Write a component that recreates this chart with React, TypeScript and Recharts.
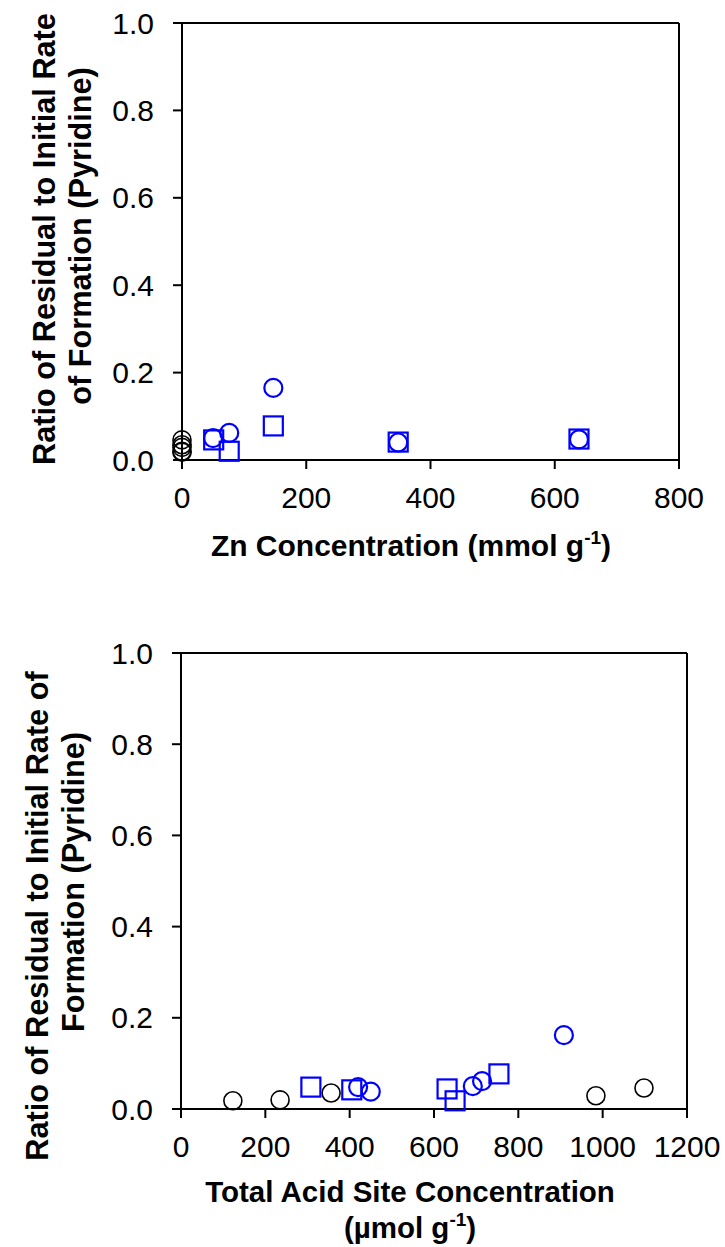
import { ScatterChart, Scatter, XAxis, YAxis, ReferenceLine } from "recharts";

// top panel: Zn concentration (mmol g-1)
const znBlackX = [0, 0, 0, 0, 0];
const znBlackY = [0.018, 0.02, 0.035, 0.029, 0.046];
const znCircleX = [50, 76, 147, 348, 639];
const znCircleY = [0.05, 0.062, 0.165, 0.04, 0.047];
const znSquareX = [51, 76, 147, 348, 639];
const znSquareY = [0.046, 0.02, 0.078, 0.041, 0.048];

// bottom panel: total acid site concentration (umol g-1)
const acidBlackX = [123, 235, 356, 984, 1098];
const acidBlackY = [0.018, 0.02, 0.035, 0.029, 0.046];
const acidCircleX = [420, 450, 692, 714, 908];
const acidCircleY = [0.048, 0.038, 0.05, 0.061, 0.162];
const acidSquareX = [308, 405, 631, 650, 754];
const acidSquareY = [0.048, 0.042, 0.044, 0.018, 0.077];

const yTicks = [0, 0.2, 0.4, 0.6, 0.8, 1.0];
const znTicks = [0, 200, 400, 600, 800];
const acidTicks = [0, 200, 400, 600, 800, 1000, 1200];

const FONT = "Liberation Sans, Arial, sans-serif";
const BLUE = "#0000ff";

const pts = (xs: number[], ys: number[]) => xs.map((x, i) => ({ x, y: ys[i] }));

const ring = (color: string, w: number) => (p: any) =>
  <circle cx={p.cx} cy={p.cy} r={9} fill="none" stroke={color} strokeWidth={w} />;

const box = (color: string) => (p: any) =>
  <rect x={p.cx - 9.5} y={p.cy - 9.5} width={19} height={19} fill="none" stroke={color} strokeWidth={2.2} />;

const tickStyle = { fontSize: 30, fill: "#000", fontFamily: FONT };
const lineStyle = { stroke: "#000", strokeWidth: 2 };

function YTitle(props: { x1: number; x2: number; cy1: number; cy2: number; lines: string[] }) {
  const { x1, x2, cy1, cy2, lines } = props;
  return (
    <g fontFamily={FONT} fontWeight="bold" fontSize={30.7} fill="#000">
      <text x={x1} y={cy1} textAnchor="middle" transform={`rotate(-90 ${x1} ${cy1})`}>{lines[0]}</text>
      <text x={x2} y={cy2} textAnchor="middle" transform={`rotate(-90 ${x2} ${cy2})`}>{lines[1]}</text>
    </g>
  );
}

function Panel(props: {
  height: number;
  margin: any;
  xMax: number;
  xTicks: number[];
  black: any[];
  circles: any[];
  squares: any[];
  xTitle: (vb: any) => any;
  yTitle: any;
}) {
  return (
    <ScatterChart width={725} height={props.height} margin={props.margin}>
      <XAxis
        type="number"
        dataKey="x"
        domain={[0, props.xMax]}
        ticks={props.xTicks}
        interval={0}
        height={100}
        tickSize={9}
        tickMargin={18}
        axisLine={lineStyle}
        tickLine={lineStyle}
        tick={tickStyle}
        label={{ content: (p: any) => props.xTitle(p.viewBox) }}
      />
      <YAxis
        type="number"
        dataKey="y"
        domain={[0, 1]}
        ticks={yTicks}
        interval={0}
        width={60}
        tickSize={9}
        tickMargin={19}
        axisLine={lineStyle}
        tickLine={lineStyle}
        tick={tickStyle}
        tickFormatter={(v: number) => v.toFixed(1)}
        label={{ content: () => props.yTitle }}
      />
      <ReferenceLine y={1} stroke="#000" strokeWidth={2} />
      <ReferenceLine x={props.xMax} stroke="#000" strokeWidth={2} />
      <Scatter data={props.black} shape={ring("#000", 1.6)} isAnimationActive={false} />
      <Scatter data={props.squares} shape={box(BLUE)} isAnimationActive={false} />
      <Scatter data={props.circles} shape={ring(BLUE, 2.2)} isAnimationActive={false} />
    </ScatterChart>
  );
}

export default function App() {
  return (
    <div style={{ position: "absolute", left: 0, top: 0, width: 725, height: 1247, background: "#fff", overflow: "hidden" }}>
      <div style={{ position: "absolute", left: 0, top: 0 }}>
        <Panel
          height={620}
          margin={{ top: 23, right: 46, bottom: 60, left: 122 }}
          xMax={800}
          xTicks={znTicks}
          black={pts(znBlackX, znBlackY)}
          circles={pts(znCircleX, znCircleY)}
          squares={pts(znSquareX, znSquareY)}
          xTitle={(vb: any) => (
            <text x={411} y={vb.y + 96} textAnchor="middle" fontFamily={FONT} fontWeight="bold" fontSize={30} fill="#000">
              Zn Concentration (mmol g
              <tspan fontSize={19} dy={-12}>-1</tspan>
              <tspan dy={12}>)</tspan>
            </text>
          )}
          yTitle={<YTitle x1={55} x2={91} cy1={239} cy2={236} lines={["Ratio of Residual to Initial Rate", "of Formation (Pyridine)"]} />}
        />
      </div>
      <div style={{ position: "absolute", left: 0, top: 620 }}>
        <Panel
          height={627}
          margin={{ top: 33, right: 38, bottom: 38, left: 121 }}
          xMax={1200}
          xTicks={acidTicks}
          black={pts(acidBlackX, acidBlackY)}
          circles={pts(acidCircleX, acidCircleY)}
          squares={pts(acidSquareX, acidSquareY)}
          xTitle={(vb: any) => (
            <text x={410} y={vb.y + 93} textAnchor="middle" fontFamily={FONT} fontWeight="bold" fontSize={29.5} fill="#000">
              <tspan x={410}>Total Acid Site Concentration</tspan>
              <tspan x={410} dy={36}>(µmol g</tspan>
              <tspan fontSize={19} dy={-12}>-1</tspan>
              <tspan dy={12}>)</tspan>
            </text>
          )}
          yTitle={<YTitle x1={48} x2={84} cy1={296} cy2={262} lines={["Ratio of Residual to Initial Rate of", "Formation (Pyridine)"]} />}
        />
      </div>
    </div>
  );
}
